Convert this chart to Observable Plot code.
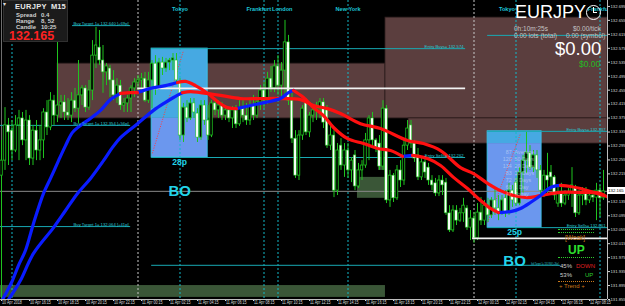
<!DOCTYPE html>
<html><head><meta charset="utf-8">
<script src="https://cdn.jsdelivr.net/npm/d3@7"></script>
<script src="https://cdn.jsdelivr.net/npm/@observablehq/plot@0.6"></script>
<style>
html,body{margin:0;padding:0;background:#000;}
#wrap{position:relative;width:625px;height:306px;overflow:hidden;background:#000;font-family:"Liberation Sans",Arial,sans-serif;}
#wrap svg{position:absolute;left:0;top:0;}
.ov{position:absolute;white-space:nowrap;line-height:1;}
</style></head><body><div id="wrap"></div>
<script>
// ---- EURJPY M15 candles (bar 0 = 10 Apr 14:15, one bar = 15 min) ----
const barOpen = [132.210,132.253,132.354,132.339,132.282,132.354,132.374,132.311,132.368,132.259,132.339,132.282,132.311,132.391,132.348,132.425,132.382,132.411,132.420,132.391,132.382,132.425,132.402,132.440,132.460,132.405,132.454,132.554,132.577,132.540,132.506,132.517,132.483,132.440,132.468,132.411,132.417,132.431,132.460,132.477,132.483,132.488,132.425,132.483,132.531,132.463,132.534,132.517,132.534,132.540,132.540,132.477,132.325,132.405,132.374,132.417,132.388,132.319,132.411,132.368,132.325,132.417,132.397,132.411,132.382,132.397,132.374,132.397,132.357,132.402,132.382,132.368,132.411,132.382,132.420,132.454,132.425,132.488,132.460,132.523,132.468,132.511,132.592,132.425,132.316,132.210,132.325,132.420,132.334,132.382,132.397,132.402,132.420,132.397,132.296,132.325,132.167,132.296,132.239,132.282,132.225,132.268,132.179,132.225,132.239,132.311,132.374,132.311,132.302,132.236,132.402,132.139,132.210,132.145,132.225,132.196,132.296,132.354,132.302,132.268,132.205,132.248,132.233,132.196,132.188,132.159,132.196,132.190,132.102,132.053,132.110,132.081,132.102,132.116,132.061,132.087,132.030,132.104,132.081,132.124,132.096,132.139,132.116,132.104,132.145,132.102,132.167,132.190,132.130,132.219,132.253,132.274,132.233,132.268,132.225,132.167,132.210,132.219,132.205,132.130,132.159,132.130,132.153,132.162,132.176,132.102,132.153,132.167,132.139,132.153,132.147,132.167,132.145];
const barHigh = [132.311,132.405,132.374,132.368,132.382,132.397,132.391,132.397,132.382,132.354,132.368,132.354,132.402,132.425,132.448,132.440,132.592,132.440,132.440,132.431,132.448,132.460,132.540,132.468,132.468,132.483,132.597,132.635,132.626,132.583,132.531,132.526,132.511,132.488,132.483,132.431,132.440,132.468,132.488,132.497,132.503,132.506,132.506,132.540,132.554,132.546,132.549,132.546,132.546,132.560,132.560,132.488,132.417,132.425,132.431,132.431,132.402,132.425,132.425,132.411,132.425,132.431,132.425,132.420,132.411,132.402,132.408,132.411,132.425,132.425,132.417,132.425,132.440,132.431,132.468,132.477,132.506,132.523,132.540,132.554,132.534,132.655,132.612,132.448,132.339,132.339,132.411,132.431,132.391,132.411,132.420,132.431,132.431,132.411,132.354,132.339,132.302,132.316,132.302,132.302,132.262,132.282,132.245,132.253,132.331,132.382,132.391,132.316,132.325,132.425,132.411,132.225,132.216,132.239,132.253,132.311,132.368,132.368,132.311,132.288,132.259,132.259,132.245,132.210,132.202,132.210,132.210,132.202,132.124,132.124,132.124,132.116,132.145,132.124,132.110,132.104,132.130,132.147,132.139,132.145,132.147,132.176,132.153,132.153,132.167,132.188,132.182,132.202,132.233,132.268,132.334,132.296,132.282,132.282,132.239,132.225,132.274,132.239,132.210,132.176,132.188,132.167,132.173,132.233,132.182,132.167,132.176,132.176,132.167,132.167,132.188,132.182,132.225];
const barLow = [131.858,132.225,132.239,132.253,132.276,132.253,132.296,132.253,132.239,132.239,132.253,132.253,132.259,132.325,132.339,132.354,132.362,132.374,132.368,132.368,132.362,132.391,132.359,132.411,132.391,132.397,132.425,132.517,132.526,132.446,132.468,132.434,132.425,132.417,132.397,132.391,132.391,132.391,132.434,132.454,132.454,132.420,132.417,132.402,132.440,132.454,132.497,132.506,132.511,132.511,132.474,132.311,132.305,132.362,132.368,132.374,132.305,132.311,132.354,132.311,132.319,132.382,132.374,132.368,132.368,132.362,132.345,132.345,132.351,132.362,132.354,132.354,132.368,132.374,132.397,132.402,132.414,132.448,132.448,132.440,132.425,132.425,132.411,132.302,132.202,132.196,132.311,132.325,132.319,132.362,132.368,132.374,132.345,132.288,132.282,132.147,132.153,132.225,132.205,132.202,132.190,132.167,132.173,132.196,132.231,132.253,132.296,132.276,132.225,132.225,132.130,132.119,132.133,132.139,132.176,132.182,132.282,132.288,132.248,132.196,132.196,132.202,132.182,132.167,132.150,132.150,132.153,132.096,132.047,132.047,132.067,132.076,132.076,132.053,132.024,132.016,132.024,132.067,132.067,132.076,132.087,132.096,132.081,132.096,132.090,132.096,132.119,132.122,132.124,132.159,132.216,132.225,132.219,132.202,132.147,132.147,132.153,132.167,132.139,132.119,132.119,132.124,132.139,132.119,132.090,132.096,132.124,132.124,132.130,132.133,132.081,132.090,132.139];
const barClose = [132.253,132.354,132.334,132.282,132.354,132.374,132.311,132.368,132.259,132.339,132.282,132.311,132.391,132.348,132.425,132.382,132.411,132.420,132.391,132.382,132.425,132.402,132.440,132.460,132.405,132.454,132.554,132.583,132.540,132.506,132.523,132.483,132.440,132.468,132.411,132.417,132.431,132.460,132.477,132.483,132.488,132.425,132.483,132.531,132.463,132.534,132.517,132.534,132.540,132.546,132.483,132.325,132.405,132.374,132.417,132.391,132.319,132.411,132.368,132.325,132.417,132.397,132.411,132.382,132.397,132.374,132.397,132.357,132.402,132.382,132.368,132.411,132.382,132.420,132.454,132.425,132.488,132.460,132.523,132.468,132.511,132.592,132.425,132.316,132.210,132.325,132.402,132.334,132.382,132.397,132.402,132.420,132.362,132.296,132.325,132.167,132.282,132.239,132.282,132.225,132.253,132.179,132.225,132.239,132.311,132.374,132.311,132.288,132.236,132.402,132.139,132.210,132.145,132.225,132.196,132.296,132.345,132.302,132.259,132.205,132.248,132.219,132.196,132.182,132.159,132.196,132.182,132.102,132.053,132.110,132.081,132.102,132.124,132.061,132.087,132.030,132.104,132.081,132.124,132.096,132.139,132.116,132.104,132.139,132.102,132.167,132.139,132.130,132.219,132.253,132.276,132.233,132.268,132.225,132.167,132.210,132.196,132.205,132.153,132.159,132.130,132.153,132.162,132.182,132.102,132.153,132.162,132.139,132.153,132.147,132.167,132.145,132.165];

// ---- moving averages (bar, price, colour state: u = blue rising, d = red falling) ----
const maFastBar = [0.29,1.71,3.14,4.86,6.86,9.14,12.0,14.0,16.29,18.29,20.29,22.57,25.43,28.29,31.14,34.0,36.86,38.86,42.57,46.86,50.29,52.57,55.43,58.86,62.0,64.57,67.14,71.14,75.43,79.71,82.0,83.43,86.29,89.14,92.0,94.86,98.86,103.43,107.43,111.14,114.57,117.43,121.71,125.43,129.14,133.14,136.86,139.71,142.0,145.43,148.29,151.14,154.0,156.86,159.71,162.57,165.43,169.14,172.0];
const maFastPrice = [131.855,131.881,131.910,131.953,131.996,132.073,132.159,132.202,132.253,132.296,132.334,132.354,132.374,132.397,132.428,132.446,132.448,132.448,132.460,132.468,132.477,132.480,132.468,132.446,132.420,132.405,132.402,132.411,132.420,132.431,132.448,132.454,132.434,132.405,132.382,132.348,132.316,132.302,132.288,132.282,132.265,132.268,132.259,132.239,132.205,132.173,132.139,132.116,132.104,132.107,132.116,132.133,132.153,132.176,132.182,132.179,132.173,132.162,132.153];
const maFastTrend = ["u","u","u","u","u","u","u","u","u","u","u","u","u","u","u","d","d","u","u","u","d","d","d","d","d","d","u","u","u","u","u","d","d","d","d","d","d","d","d","d","u","d","d","d","d","d","d","d","u","u","u","u","u","u","d","d","d","d","d"];
const maSlowBar = [2.0,3.71,5.43,9.14,14.86,18.29,21.71,25.43,29.14,31.71,34.0,38.86,43.43,46.86,49.14,51.71,54.0,56.86,62.57,68.29,74.0,79.71,85.43,89.14,93.14,96.86,102.57,108.29,116.0,120.57,125.43,131.14,134.86,138.86,142.57,146.29,150.29,154.0,159.71,165.43,171.14,172.86];
const maSlowPrice = [131.855,131.881,131.910,131.987,132.061,132.110,132.159,132.202,132.253,132.291,132.319,132.359,132.397,132.420,132.434,132.448,132.451,132.448,132.440,132.431,132.431,132.431,132.428,132.411,132.402,132.388,132.359,132.345,132.311,132.302,132.282,132.233,132.216,132.188,132.167,132.153,132.147,132.153,132.162,132.162,132.159,132.150];
const maSlowTrend = ["u","u","u","u","u","u","u","u","u","u","u","u","u","u","u","d","d","d","d","d","d","d","d","d","d","d","d","d","d","d","d","d","d","d","d","d","d","d","d","d","d","d"];

// ---- axes ----
const xTickBars = [0,8,16,24,32,40,48,56,64,72,80,88,96,104,112,120,128,136,144,152,160,168];
const xTickLabels = ["10 Apr 2018","10 Apr 16:15","10 Apr 18:15","10 Apr 20:15","10 Apr 22:15","11 Apr 00:15","11 Apr 02:15","11 Apr 04:15","11 Apr 06:15","11 Apr 08:15","11 Apr 10:15","11 Apr 12:15","11 Apr 14:15","11 Apr 16:15","11 Apr 18:15","11 Apr 20:15","11 Apr 22:15","12 Apr 00:15","12 Apr 02:15","12 Apr 04:15","12 Apr 06:15","12 Apr 08:15"];
const yTickValues = [132.695,132.655,132.615,132.575,132.535,132.495,132.455,132.415,132.375,132.335,132.295,132.255,132.215,132.175,132.135,132.095,132.055,132.015,131.975,131.935,131.895,131.855];
const xDomain = [-0.29, 173.14];
const yDomain = [131.855, 132.712];

// ---- zones ----
const supplyStart = [16, 109.7, 116.3];
const supplyEnd = [109.7, 173.14, 173.14];
const supplyTop = [132.531, 132.663, 132.374];
const supplyBottom = [132.374, 132.374, 132.302];
const demandStart = [-0.29, 101.7, 107.7];
const demandEnd = [109.7, 109.7, 109.7];
const demandTop = [131.895, 132.205, 132.259];
const demandBottom = [131.861, 132.145, 132.225];

// ---- Asian session boxes ----
const boxStart = [42.9, 138.9];
const boxEnd = [58.9, 154.3];
const boxHigh = [132.574, 132.337];
const boxLow = [132.262, 132.061];
const boxSplit = [132.374, 132.302];
const boxPips = ["28p", "25p"];
const boxSignal = ["BO", "BO"];
const diagStartBar = [43.1, 138.9], diagEndBar = [52.0, 148.3];
const diagStartPrice = [132.274, 132.076], diagEndPrice = [132.569, 132.331];
const statNums = ["87","120","134","83","72","68","47"];
const statNames = ["Average","50 Days","20 Days","10 Days","5 Days","1 Day","Today"];

// ---- levels ----
const levelPrice = [132.640, 132.354, 132.064, 132.574, 132.262, 131.953, 132.612, 132.337, 132.061];
const levelStart = [20.3, -0.29, -0.29, 42.9, 42.9, 42.9, 138.9, 138.9, 138.9];
const levelEnd = [36.9, 36.9, 36.9, 132.6, 132.6, 159.7, 173.14, 173.14, 173.14];
const levelKind = ["Buy Target 1","Buy Target 1","Buy Target 1","Entry Buys","Entry Sells","Sell Target 1","","Entry Buys","Entry Sells"];
const levelPips = ["+69p","+56p","+41p","","","+26p","","",""];
const whitePrice = [132.460, 132.030];
const whiteStart = [38.9, 134.6];
const whiteEnd = [132.6, 173.14];
const sessionBars = [3, 51, 75, 79, 99, 147, 171];
const sessionNames = ["New York","Tokyo","Frankfurt","London","New York","Tokyo","Frankfurt"];
const dayBars = [39, 135];

// ---- build ----
const idx = d3.range(barOpen.length);
const bear = idx.filter(i => barClose[i] < barOpen[i]);
const bull = idx.filter(i => barClose[i] >= barOpen[i]);
const lastClose = barClose[barClose.length - 1];
// MT4 hides the axis label that sits under the current-price box
const yTicksShown = yTickValues.filter(v => Math.abs(v - lastClose) > 0.012);
function runs(bx, py, tr) {
  const out = []; let r = -1, cur = null;
  for (let k = 0; k < bx.length - 1; k++) {
    if (cur !== tr[k]) { r++; cur = tr[k]; out.push({x: bx[k], y: py[k], run: r, t: cur}); }
    out.push({x: bx[k + 1], y: py[k + 1], run: r, t: cur});
  }
  return out;
}
const maFast = runs(maFastBar, maFastPrice, maFastTrend);
const maSlow = runs(maSlowBar, maSlowPrice, maSlowTrend);
const li = d3.range(levelPrice.length);
const bi = d3.range(boxStart.length);
const GREEN = "#1fc41f", CYAN = "#18a9b3", BLUE = "#0a1cff", RED = "#ff1010";
const maLine = (data, t, color) => Plot.line(data.filter(d => d.t === t), {x: "x", y: "y", z: "run", stroke: color, strokeWidth: 3.2, curve: "catmull-rom", strokeLinecap: "round", clip: true});
// session captions (the first New York one is hidden under the info panel)
const sessionText = (ids, align, dx) => Plot.text(ids, {x: i => sessionBars[i], text: i => sessionNames[i], textAnchor: align, dx, frameAnchor: "top", dy: 6.5, fontSize: 5.6, fontWeight: "bold", fill: "#1cc6d8", clip: true});

const chart = Plot.plot({
  width: 625, height: 306,
  marginLeft: 0, marginRight: 18, marginTop: 0, marginBottom: 7,
  style: {background: "#000", color: "#d8d8d8", fontFamily: "Liberation Sans, Arial, sans-serif", fontSize: "4.2px", overflow: "visible"},
  x: {domain: xDomain, axis: "bottom", ticks: xTickBars, tickFormat: () => "", tickSize: 2, label: null},
  y: {domain: yDomain, axis: "right", ticks: yTicksShown, tickFormat: d => d.toFixed(3), tickSize: 2, tickPadding: 1, label: null},
  marks: [
    Plot.rect(d3.range(3), {x1: i => supplyStart[i], x2: i => supplyEnd[i], y1: i => supplyBottom[i], y2: i => supplyTop[i], fill: "#5b3e3e", stroke: "#2c1d1d", strokeWidth: 0.8}),
    Plot.rect(d3.range(3), {x1: i => demandStart[i], x2: i => demandEnd[i], y1: i => demandBottom[i], y2: i => demandTop[i], fill: "#3d5b3a", fillOpacity: 0.95}),
    Plot.rect(bi, {x1: i => boxStart[i], x2: i => boxEnd[i], y1: i => boxLow[i], y2: i => boxSplit[i], fill: "#6b97ee"}),
    Plot.rect(bi, {x1: i => boxStart[i], x2: i => boxEnd[i], y1: i => boxSplit[i], y2: i => boxHigh[i], fill: "#46a9e2"}),
    Plot.rect(bi, {x1: i => boxStart[i], x2: i => boxEnd[i], y1: i => boxLow[i], y2: i => boxHigh[i], fill: "none", stroke: "#3cc0e6", strokeWidth: 1}),
    Plot.ruleX(sessionBars, {x: d => d, stroke: "#12b8c8", strokeDasharray: "2,2", strokeWidth: 1}),
    Plot.ruleX(dayBars, {x: d => d, stroke: "#c8c8c8", strokeDasharray: "2,2", strokeWidth: 1}),
    Plot.ruleX([xDomain[0]], {stroke: "#6e6e6e", strokeWidth: 1, dx: 1}),
    Plot.ruleY(li, {y: i => levelPrice[i], x1: i => levelStart[i], x2: i => levelEnd[i], stroke: CYAN, strokeWidth: 1}),
    Plot.ruleY([lastClose], {stroke: "#8a8a8a", strokeWidth: 1}),
    Plot.link(bi, {x1: i => diagStartBar[i], y1: i => diagStartPrice[i], x2: i => diagEndBar[i], y2: i => diagEndPrice[i], stroke: "#ff3a3a", strokeDasharray: "1,1.5", strokeWidth: 1}),
    Plot.ruleX(idx, {x: i => i, y1: i => barLow[i], y2: i => barHigh[i], stroke: GREEN, strokeWidth: 1, clip: true}),
    Plot.rect(bull, {x1: i => i - 0.36, x2: i => i + 0.36, y1: i => barOpen[i], y2: i => barClose[i], fill: "#000", stroke: GREEN, strokeWidth: 0.8}),
    Plot.rect(bear, {x1: i => i - 0.36, x2: i => i + 0.36, y1: i => barOpen[i], y2: i => barClose[i], fill: "#fff", stroke: GREEN, strokeWidth: 0.6}),
    Plot.ruleY(d3.range(2), {y: i => whitePrice[i], x1: i => whiteStart[i], x2: i => whiteEnd[i], stroke: "#f2f2f2", strokeWidth: 1.8}),
    maLine(maSlow, "u", BLUE), maLine(maSlow, "d", RED),
    maLine(maFast, "u", BLUE), maLine(maFast, "d", RED),
    Plot.text(li.filter(i => levelKind[i]), {x: i => levelEnd[i], y: i => levelPrice[i], text: i => `${levelKind[i]}= ${levelPrice[i].toFixed(3)}` + (levelPips[i] ? ` [${levelPips[i]}]` : ""), textAnchor: "end", lineAnchor: "bottom", dx: -2, dy: -0.6, fontSize: 4.2, fill: "#2ccad6"}),
    sessionText([1, 4, 6], "middle", 0), sessionText([2], "end", 7), sessionText([3], "start", -6), sessionText([5], "end", -1),
    Plot.text(bi, {x: i => (boxStart[i] + boxEnd[i]) / 2, y: i => boxLow[i], text: i => boxPips[i], lineAnchor: "top", dy: 1.5, fontSize: 8.5, fontWeight: "bold", fill: "#22d4ea"}),
    Plot.text(bi, {x: i => (boxStart[i] + boxEnd[i]) / 2, y: i => boxLow[i], text: i => boxSignal[i], lineAnchor: "middle", dy: 34, fontSize: 15, fontWeight: "bold", fill: "#22d4ea"}),
    Plot.text([1], {x: i => (boxStart[i] + boxEnd[i]) / 2, y: i => boxHigh[i], text: () => statNums.join("\n"), textAnchor: "end", lineAnchor: "top", dx: -3, dy: 18, lineHeight: 1.3, fontSize: 5.3, fill: "#e4ebf7", fillOpacity: 0.5}),
    Plot.text([1], {x: i => (boxStart[i] + boxEnd[i]) / 2, y: i => boxHigh[i], text: () => statNames.join("\n"), textAnchor: "start", lineAnchor: "top", dx: 0, dy: 18, lineHeight: 1.3, fontSize: 5.3, fill: "#e4ebf7", fillOpacity: 0.5}),
    Plot.text(xTickBars, {x: d => d, text: (d, i) => xTickLabels[i], frameAnchor: "bottom", dy: 4, dx: 0.5, textAnchor: "start", fontSize: 4.6, fill: "#dcdcdc"}),
    Plot.ruleX([xDomain[1]], {stroke: "#bdbdbd", strokeWidth: 1}),
    Plot.ruleY([yDomain[0]], {stroke: "#bdbdbd", strokeWidth: 1})
  ]
});
const wrap = document.getElementById("wrap");
wrap.appendChild(chart);
// MT4's narrow "small fonts": squeeze the time labels and the sell-target label horizontally
function squeeze(sel, k) {
  sel.each(function () {
    const t = this.getAttribute("transform");
    if (t) this.setAttribute("transform", `${t} scale(${k},1)`);
    else { this.setAttribute("textLength", this.getComputedTextLength() * k); this.setAttribute("lengthAdjust", "spacingAndGlyphs"); }
  });
}
const svgText = d3.select(chart).selectAll("text");
squeeze(svgText.filter(function () { return xTickLabels.includes(this.textContent); }), 0.8);
squeeze(svgText.filter(function () { return (this.textContent || "").startsWith("Sell Target"); }), 0.5);

function ov(text, css) {
  const d = document.createElement("div");
  d.className = "ov"; d.textContent = text; d.style.cssText += css;
  wrap.appendChild(d); return d;
}
// current price label on the axis
const yPix = chart.scale("y").apply(lastClose);
ov(lastClose.toFixed(3), `left:607px;top:${yPix - 3.5}px;width:18px;height:7px;background:#fff;color:#000;font-size:4.3px;line-height:7px;text-align:center;`);

// info panel
ov("", "left:3px;top:0px;width:63px;height:40px;background:#1b1b1b;border:1px solid #303030;");
ov("▾", "left:3px;top:1px;font-size:6px;color:#ddd;");
ov("EURJPY", "left:15px;top:3px;font-size:7.5px;font-weight:bold;color:#e8e8e8;letter-spacing:0.3px;");
ov("M15", "left:51px;top:3px;font-size:7.5px;font-weight:bold;color:#e8e8e8;");
ov("Spread", "left:16px;top:11.5px;font-size:6px;font-weight:bold;color:#d0d0d0;");
ov("0.4", "left:41px;top:11.5px;font-size:6px;font-weight:bold;color:#d0d0d0;");
ov("Range", "left:16px;top:17.5px;font-size:6px;font-weight:bold;color:#d0d0d0;");
ov("8, 52", "left:41px;top:17.5px;font-size:6px;font-weight:bold;color:#d0d0d0;");
ov("Candle", "left:16px;top:23.5px;font-size:6px;font-weight:bold;color:#d0d0d0;");
ov("10:25", "left:41px;top:23.5px;font-size:6px;font-weight:bold;color:#d0d0d0;");
ov(lastClose.toFixed(3), "left:9px;top:29.5px;font-size:12.5px;font-weight:bold;color:#ff2222;");

// top-right info
ov("EURJPY", "left:515px;top:3px;font-size:18px;color:#fff;");
ov("", "left:586px;top:5px;width:13px;height:13px;border:1.3px solid #fff;border-radius:50%;");
ov("", "left:593px;top:7px;width:1.3px;height:5.5px;background:#fff;");
ov("", "left:593px;top:12px;width:4px;height:1.3px;background:#fff;");
ov("0h:10m:25s", "left:514px;top:26px;font-size:6.5px;color:#c4c4c4;");
ov("$0.00/tick", "left:573px;top:26px;font-size:6.5px;color:#c4c4c4;");
ov("0.00 lots (total)", "left:514px;top:33px;font-size:6.5px;color:#c4c4c4;");
ov("0.00 (symbol)", "left:566px;top:33px;font-size:6.5px;color:#c4c4c4;");
ov("$0.00", "left:555px;top:40px;font-size:18.5px;color:#fff;");
ov("$0.00", "left:579px;top:59.5px;font-size:8.5px;color:#22bb22;");

// trend panel
ov("", "left:558px;top:229px;width:36px;border-top:1px dotted #2ecc2e;");
ov("", "left:558px;top:232px;width:36px;border-top:1px dotted #2ecc2e;");
ov("[Weak]", "left:565px;top:235px;font-size:6.5px;color:#cc7a1a;");
ov("UP", "left:568px;top:243.5px;font-size:12px;font-weight:bold;color:#2ee02e;");
ov("", "left:558px;top:257px;width:36px;border-top:1px dotted #2ecc2e;");
ov("45%", "left:560px;top:262.5px;font-size:6px;color:#cfcfcf;");
ov("DOWN", "left:576px;top:262.5px;font-size:6px;color:#e02020;");
ov("53%", "left:560px;top:271.5px;font-size:6px;color:#cfcfcf;");
ov("UP", "left:585px;top:271.5px;font-size:6px;color:#2ecc2e;");
ov("", "left:558px;top:280.5px;width:36px;border-top:1px dotted #cc7a1a;");
ov("+  Trend  +", "left:559px;top:283px;font-size:6px;color:#cc7a1a;");
</script></body></html>
